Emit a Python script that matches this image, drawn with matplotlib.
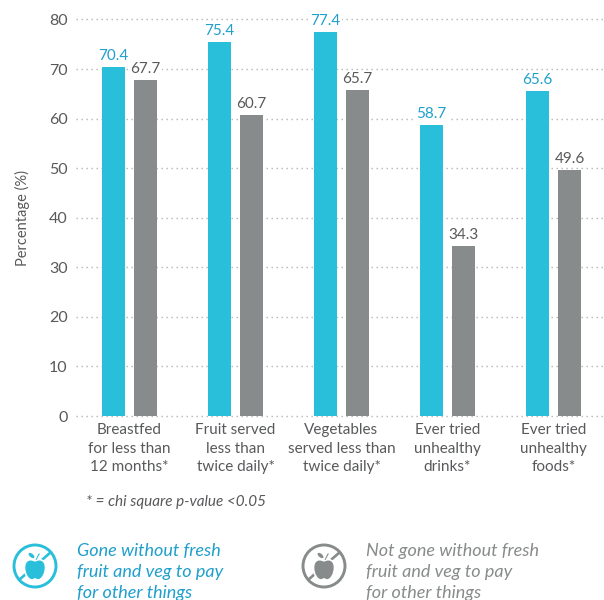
import matplotlib
matplotlib.use("Agg")
import numpy as np
import matplotlib.pyplot as plt
from matplotlib.patches import Circle, Ellipse, Polygon, PathPatch
from matplotlib.path import Path

categories = ["Breastfed\nfor less than\n12 months*",
              "Fruit served\nless than\ntwice daily*",
              "Vegetables\nserved less than\ntwice daily*",
              "Ever tried\nunhealthy\ndrinks*",
              "Ever tried\nunhealthy\nfoods*"]
gone_without = [70.4, 75.4, 77.4, 58.7, 65.6]
not_gone_without = [67.7, 60.7, 65.7, 34.3, 49.6]
yticks = [0, 10, 20, 30, 40, 50, 60, 70, 80]

BLUE = "#29bfdb"
BLUE_TEXT = "#1f9fcb"
GREY = "#888b8b"
TEXT = "#58595b"

W, H = 604, 600
plt.rcParams["font.family"] = ["Lato", "DejaVu Sans"]

fig = plt.figure(figsize=(W / 100, H / 100), dpi=100)
ax = fig.add_axes([76 / W, 1 - 416 / H, (W - 76) / W, (416 - 19.5) / H])

x = np.arange(len(categories))
offset = 16 / 106
bar_w = 23 / 106

ax.bar(x - offset, gone_without, bar_w, color=BLUE, zorder=3)
ax.bar(x + offset, not_gone_without, bar_w, color=GREY, zorder=3)

# white halo behind each value so the dotted grid stops short of the label
for xs, vals, col in [(x - offset, gone_without, BLUE_TEXT), (x + offset, not_gone_without, TEXT)]:
    for xi, v in zip(xs, vals):
        ax.annotate(f"{v:.1f}", (xi, v), xytext=(0, 3), textcoords="offset points",
                    ha="center", va="bottom", fontsize=11, color=col, zorder=4,
                    bbox=dict(fc="white", ec="none", pad=1))

ax.set_xlim(-53.5 / 106, (W - 129.5) / 106)
ax.set_ylim(0, 80)
ax.set_yticks(yticks)
ax.set_xticks(x)
ax.set_xticklabels(categories, fontsize=11, color=TEXT, linespacing=1.42)
ax.tick_params(axis="y", length=0, pad=6, labelsize=11.5, labelcolor=TEXT)
ax.tick_params(axis="x", length=0, pad=5)
ax.set_ylabel("Percentage (%)", fontsize=10.5, color=TEXT)
ax.yaxis.set_label_coords(-46 / 528, 0.5)
ax.grid(axis="y", color="#b5b5b5", linestyle=(0, (1, 2.6)), linewidth=1, zorder=0)
ax.set_axisbelow(True)
for s in ax.spines.values():
    s.set_visible(False)
for t in ax.get_ygridlines():
    t.set_clip_on(False)

# overlay in pixel coordinates for the footnote and legend
ov = fig.add_axes([0, 0, 1, 1], facecolor="none")
ov.set_xlim(0, W)
ov.set_ylim(H, 0)
ov.axis("off")


def no_apple_icon(cx, cy, col):
    ov.add_patch(Circle((cx, cy), 21, fc="none", ec=col, lw=2.1))
    # slash across the ring
    ov.plot([cx - 16, cx + 16], [cy + 14, cy - 14], color=col, lw=1.9, solid_capstyle="butt")
    # apple body, white edge cuts it out of the slash
    verts = [(cx, cy - 5), (cx - 5, cy - 8), (cx - 10.5, cy - 6), (cx - 10.5, cy + 1.5),
             (cx - 10.5, cy + 8), (cx - 7, cy + 14), (cx - 3, cy + 14),
             (cx - 1.5, cy + 14), (cx - 1, cy + 13), (cx, cy + 13),
             (cx + 1, cy + 13), (cx + 1.5, cy + 14), (cx + 3, cy + 14),
             (cx + 7, cy + 14), (cx + 10.5, cy + 8), (cx + 10.5, cy + 1.5),
             (cx + 10.5, cy - 6), (cx + 5, cy - 8), (cx, cy - 5)]
    codes = [Path.MOVETO] + [Path.CURVE4] * 18
    ov.add_patch(PathPatch(Path(verts, codes), fc=col, ec="white", lw=1.2, zorder=5))
    # leaves
    ov.add_patch(Ellipse((cx - 3.5, cy - 10.5), 7, 3.6, angle=40, fc=col, ec="none", zorder=5))
    ov.add_patch(Polygon([(cx + 0.5, cy - 6), (cx + 1.5, cy - 6), (cx + 5, cy - 12.5), (cx + 3.6, cy - 12.5)],
                         fc=col, ec="none", zorder=5))


ov.text(86, 502, "* = chi square p-value <0.05", fontsize=11, style="italic", color=TEXT,
        ha="left", va="center")

no_apple_icon(35, 566, BLUE)
no_apple_icon(324, 566, GREY)
legend_lines = ["Gone without fresh\nfruit and veg to pay\nfor other things",
                "Not gone without fresh\nfruit and veg to pay\nfor other things"]
ov.text(77, 572, legend_lines[0], fontsize=13, style="italic", color=BLUE_TEXT,
        ha="left", va="center", linespacing=1.38)
ov.text(366, 572, legend_lines[1], fontsize=13, style="italic", color=GREY,
        ha="left", va="center", linespacing=1.38)

fig.savefig("out.png", dpi=100)
